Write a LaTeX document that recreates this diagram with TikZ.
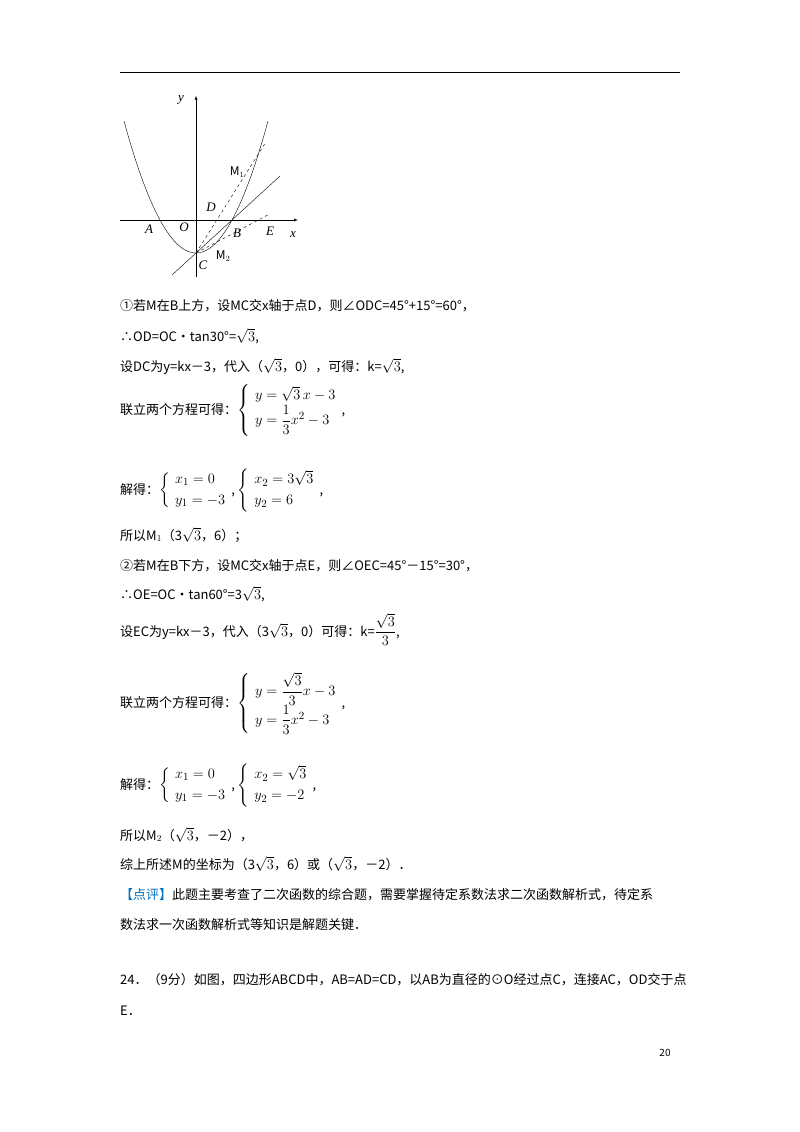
\documentclass[tikz,border=0pt]{standalone}
\usepackage{amsmath}
\usepackage{fontspec}
\usetikzlibrary{calc}
\setmainfont{Noto Sans CJK SC}
\newfontfamily\lblfont{Liberation Serif}
\newcommand{\mm}[1]{{\fontsize{15}{17}\selectfont$#1$}}
\begin{document}
\begin{tikzpicture}[x=1pt,y=-1pt,
  txt/.style={anchor=base west,inner sep=0pt,font=\fontsize{13}{16}\selectfont},
  lbl/.style={inner sep=0pt,font=\fontsize{13}{13}\selectfont\lblfont\itshape},
  ax/.style={thin,-latex}]
\useasboundingbox (0,0) rectangle (800,1132);
\fill[white] (0,0) rectangle (800,1132);
\draw[line width=0.8pt] (120,72) -- (680,72);
\begin{scope}[shift={(196,220)},x=12pt,y=11pt]
\coordinate (O) at (0,0);
\coordinate (C) at (0,-3);
\coordinate (D) at (1.732,0);
\coordinate (B) at (3,0);
\coordinate (E) at (5.196,0);
\coordinate (M1) at (5.196,6);
\coordinate (M2) at (1.732,-2);
\draw[ax] (-6.3,0) -- (8.5,0);
\draw[ax] (0,-5.2) -- (0,11.3);
\draw[thin,domain=-6:6,samples=80] plot (\x,{\x*\x/3-3});
\draw[thin] (-2,-5) -- (7,4);
\draw[thin,dashed] (C) -- (D) -- (M1) -- ($(C)!1.1!(M1)$);
\draw[thin,dashed] (C) -- (M2) -- (E) -- ($(C)!1.15!(E)$);
\end{scope}
\node[lbl] at (181,100) {y};
\node[lbl] at (149,229) {A};
\node[lbl] at (184,227) {O};
\node[lbl] at (211,207) {D};
\node[lbl] at (237,233) {B};
\node[lbl] at (270,231) {E};
\node[lbl] at (293,235) {x};
\node[lbl] at (203,265) {C};
\node[inner sep=0pt,font=\fontsize{12}{12}\selectfont] at (237,172) {M$_1$};
\node[inner sep=0pt,font=\fontsize{12}{12}\selectfont] at (223,256) {M$_2$};
\node[txt] (l1) at (120,310) {①若M在B上方，设MC交x轴于点D，则∠ODC=45°+15°=60°，};
\node[txt] (l2) at (120,341) {∴OD=OC•tan30°=\mm{\sqrt{3}},};
\node[txt] (l3) at (120,371) {设DC为y=kx－3，代入（\mm{\sqrt{3}}，0），可得：k=\mm{\sqrt{3}},};
\node[txt] (l4) at (120,414) {联立两个方程可得：\mm{\left\{\begin{array}{l}y=\sqrt{3}\,x-3\\[1pt] y=\dfrac{1}{3}x^2-3\end{array}\right.},};
\node[txt] (l5) at (120,494) {解得：\mm{\left\{\begin{array}{l}x_1=0\\[4pt] y_1=-3\end{array}\right.},\ \mm{\left\{\begin{array}{l}x_2=3\sqrt{3}\\[4pt] y_2=6\end{array}\right.},};
\node[txt] (l6) at (120,540) {所以M$_1$（3\mm{\sqrt{3}}，6）；};
\node[txt] (l7) at (120,570) {②若M在B下方，设MC交x轴于点E，则∠OEC=45°－15°=30°，};
\node[txt] (l8) at (120,599) {∴OE=OC•tan60°=3\mm{\sqrt{3}},};
\node[txt] (l9) at (120,636) {设EC为y=kx－3，代入（3\mm{\sqrt{3}}，0）可得：k=\mm{\dfrac{\sqrt{3}}{3}},};
\node[txt] (l10) at (120,707) {联立两个方程可得：\mm{\left\{\begin{array}{l}y=\dfrac{\sqrt{3}}{3}x-3\\[4pt] y=\dfrac{1}{3}x^2-3\end{array}\right.},};
\node[txt] (l11) at (120,789) {解得：\mm{\left\{\begin{array}{l}x_1=0\\[4pt] y_1=-3\end{array}\right.},\ \mm{\left\{\begin{array}{l}x_2=\sqrt{3}\\[4pt] y_2=-2\end{array}\right.},};
\node[txt] (l12) at (120,840) {所以M$_2$（\mm{\sqrt{3}}，－2），};
\node[txt] (l13) at (120,869) {综上所述M的坐标为（3\mm{\sqrt{3}}，6）或（\mm{\sqrt{3}}，－2）．};
\node[txt] (l14) at (120,899) {\textcolor[RGB]{0,112,192}{【点评】}此题主要考查了二次函数的综合题，需要掌握待定系数法求二次函数解析式，待定系};
\node[txt] (l15) at (120,929) {数法求一次函数解析式等知识是解题关键．};
\node[txt] (l16) at (120,984) {24．（9分）如图，四边形ABCD中，AB=AD=CD，以AB为直径的⊙O经过点C，连接AC，OD交于点};
\node[txt] (l17) at (120,1015) {E．};
\node[anchor=base,inner sep=0pt,font=\fontsize{10}{12}\selectfont] (pg) at (665,1056) {20};
\end{tikzpicture}
\end{document}
